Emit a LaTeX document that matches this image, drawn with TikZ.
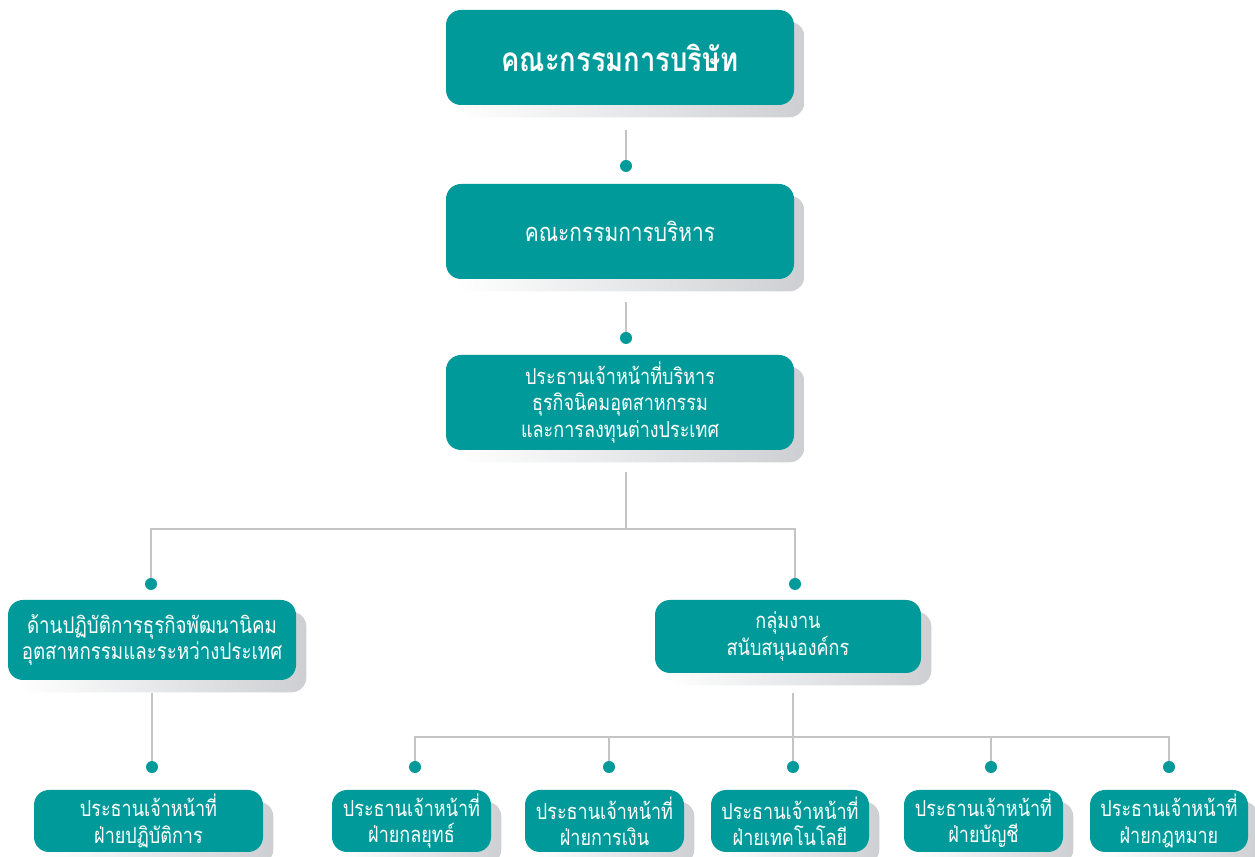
\documentclass[tikz,border=0pt]{standalone}
\usepackage{fontspec}
\newfontfamily\thaifont[Script=Thai,FakeStretch=0.82]{Loma}
\usetikzlibrary{calc,backgrounds}
\newdimen\pxu \pxu=0.02cm
\definecolor{teal1}{RGB}{0,154,154}
\definecolor{lineg}{RGB}{196,196,196}
\definecolor{shadg}{RGB}{205,207,210}
\tikzset{
  box/.style={fill=teal1, rounded corners=15*\pxu, text=white, align=center, inner sep=0pt, font=\thaifont\fontsize{12.5}{15}\selectfont},
  dotn/.style={circle, fill=teal1, inner sep=0pt, minimum size=12*\pxu},
  conn/.style={draw=lineg, line width=1.1pt},
}
\newcommand{\boxshadow}[1]{%
  \shade[left color=white, right color=shadg, rounded corners=15*\pxu]
    ($(#1.south west)+(10,12)$) rectangle ($(#1.north east)+(10,12)$);}
\begin{document}
\begin{tikzpicture}[x=0.02cm, y=-0.02cm]
\useasboundingbox (0,0) rectangle (1255,857);
% boxes
\node[box, minimum width=348*\pxu, minimum height=95*\pxu, font=\thaifont\bfseries\fontsize{19}{22}\selectfont] (board) at (620,57.5) {คณะกรรมการบริษัท};
\node[box, minimum width=348*\pxu, minimum height=95*\pxu, font=\thaifont\fontsize{14.5}{17}\selectfont] (exec) at (620,231.5) {คณะกรรมการบริหาร};
\node[box, minimum width=348*\pxu, minimum height=95*\pxu] (ceo) at (620,402.5) {ประธานเจ้าหน้าที่บริหาร\\ธุรกิจนิคมอุตสาหกรรม\\และการลงทุนต่างประเทศ};
\node[box, minimum width=288*\pxu, minimum height=80*\pxu, font=\thaifont\fontsize{13}{15}\selectfont] (ops) at (152,640) {ด้านปฏิบัติการธุรกิจพัฒนานิคม\\อุตสาหกรรมและระหว่างประเทศ};
\node[box, minimum width=266*\pxu, minimum height=73*\pxu] (sup) at (788,636.5) {กลุ่มงาน\\สนับสนุนองค์กร};
\node[box, minimum width=229*\pxu, minimum height=62*\pxu] (b1) at (148.5,821) {ประธานเจ้าหน้าที่\\ฝ่ายปฏิบัติการ};
\node[box, minimum width=159*\pxu, minimum height=62*\pxu] (b2) at (411.5,821) {ประธานเจ้าหน้าที่\\ฝ่ายกลยุทธ์};
\node[box, minimum width=159*\pxu, minimum height=62*\pxu] (b3) at (604.5,821) {ประธานเจ้าหน้าที่\\ฝ่ายการเงิน};
\node[box, minimum width=158*\pxu, minimum height=62*\pxu] (b4) at (790,821) {ประธานเจ้าหน้าที่\\ฝ่ายเทคโนโลยี};
\node[box, minimum width=159*\pxu, minimum height=62*\pxu] (b5) at (983.5,821) {ประธานเจ้าหน้าที่\\ฝ่ายบัญชี};
\node[box, minimum width=158*\pxu, minimum height=62*\pxu] (b6) at (1169,821) {ประธานเจ้าหน้าที่\\ฝ่ายกฎหมาย};
% shadows
\begin{scope}[on background layer]
\foreach \n in {board,exec,ceo,ops,sup,b1,b2,b3,b4,b5,b6} {\boxshadow{\n}}
\end{scope}
% dots
\node[dotn] (d1) at (626,166) {};
\node[dotn] (d2) at (626,338) {};
\node[dotn] (dl) at (151,584) {};
\node[dotn] (dr) at (795,584) {};
\node[dotn] (dl2) at (152,767) {};
\node[dotn] (e2) at (415,767) {};
\node[dotn] (e3) at (609,767) {};
\node[dotn] (e4) at (793,767) {};
\node[dotn] (e5) at (991,767) {};
\node[dotn] (e6) at (1169,767) {};
\coordinate (j1) at (626,529);
\coordinate (j2) at (793,737);
% connectors
\begin{scope}[on background layer]
\draw[conn] ($(d1 |- board.south)+(0,25)$) -- (d1);
\draw[conn] ($(d2 |- exec.south)+(0,23)$) -- (d2);
\draw[conn] ($(j1 |- ceo.south)+(0,22)$) -- (j1);
\draw[conn] (dl) |- (j1) -| (dr);
\draw[conn] ($(dl2 |- ops.south)+(0,13)$) -- (dl2);
\draw[conn] ($(j2 |- sup.south)+(0,20)$) -- (j2);
\draw[conn] (e2) |- (j2) -| (e6);
\draw[conn] (e3) -- (e3 |- j2);
\draw[conn] (e4) -- (e4 |- j2);
\draw[conn] (e5) -- (e5 |- j2);
\end{scope}
\end{tikzpicture}
\end{document}
